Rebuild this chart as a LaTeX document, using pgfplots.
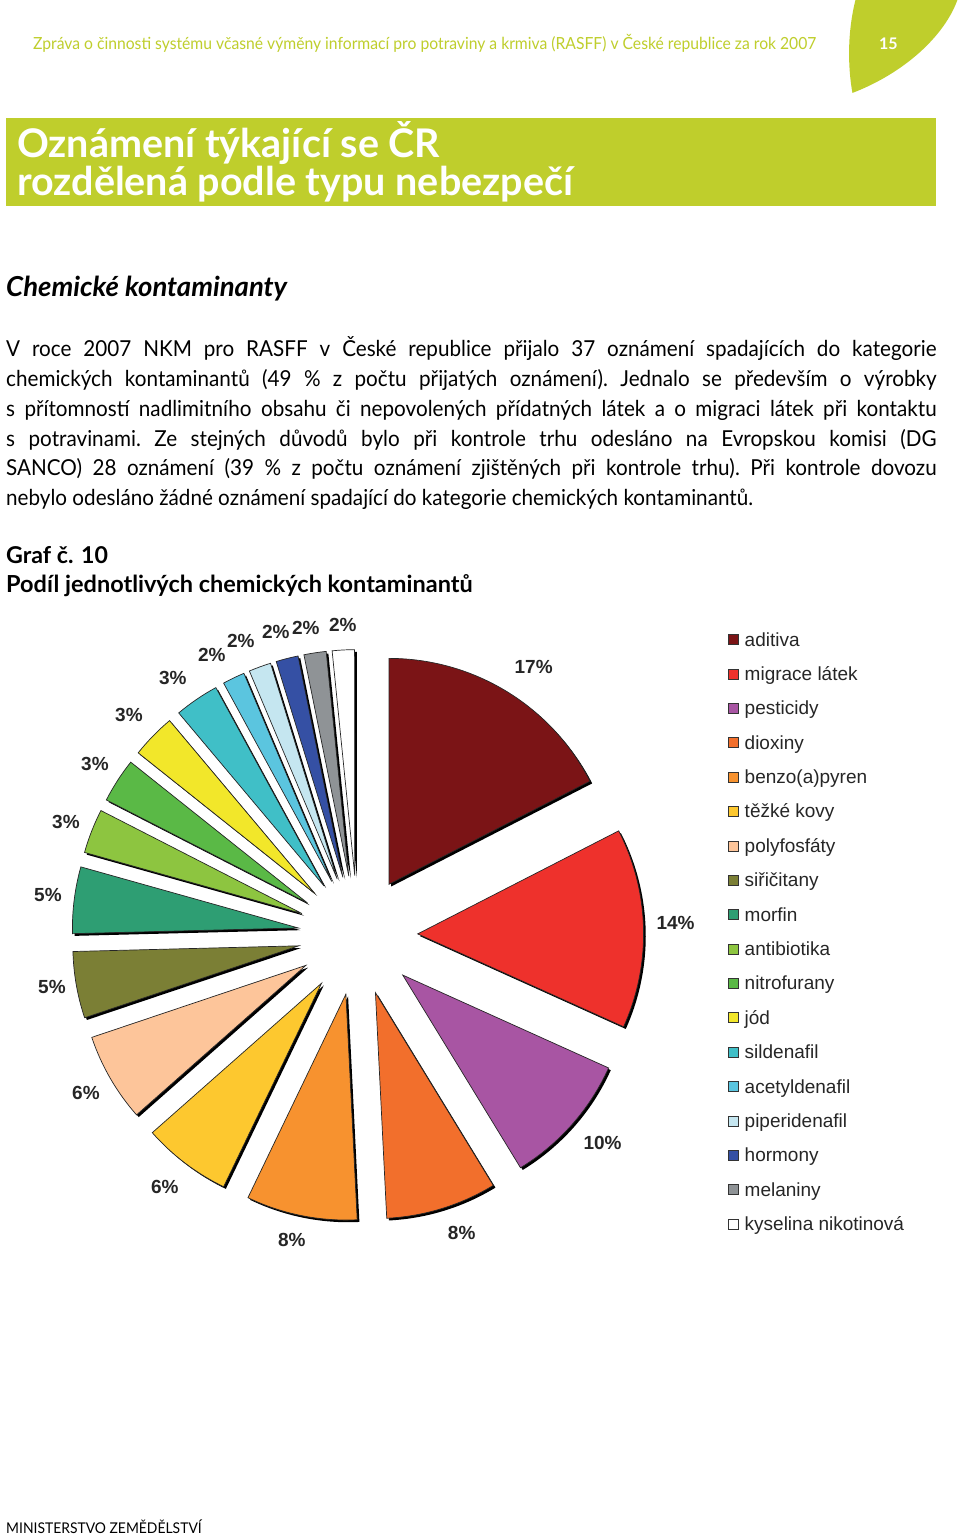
\documentclass[border=0pt]{standalone}
\usepackage{fontspec}
\setmainfont{Lato}
\newfontfamily\gill[FakeStretch=0.94]{Lato}
\newfontfamily\arialf{Liberation Sans}
\usepackage{pgfplots}
\usepackage{pgfplotstable}
\pgfplotsset{compat=1.18}

\definecolor{rgreen}{HTML}{BFCE2C}
\definecolor{s1}{HTML}{7B1416}
\definecolor{s2}{HTML}{EE312C}
\definecolor{s3}{HTML}{A855A3}
\definecolor{s4}{HTML}{F26F2C}
\definecolor{s5}{HTML}{F7922F}
\definecolor{s6}{HTML}{FDC82F}
\definecolor{s7}{HTML}{FDC59A}
\definecolor{s8}{HTML}{7B7F35}
\definecolor{s9}{HTML}{2E9E73}
\definecolor{s10}{HTML}{8DC540}
\definecolor{s11}{HTML}{5AB946}
\definecolor{s12}{HTML}{F2E72A}
\definecolor{s13}{HTML}{40BFC7}
\definecolor{s14}{HTML}{5BC5DF}
\definecolor{s15}{HTML}{C5E6F0}
\definecolor{s16}{HTML}{3550A4}
\definecolor{s17}{HTML}{8F9396}
\definecolor{s18}{HTML}{FFFFFF}

% pocty oznameni (celkem 63), podil v % se dopocita; lx,ly = poloha popisku
\pgfplotstableread[col sep=semicolon]{
name;count;col;lx;ly
aditiva;11;s1;534;666
migrace látek;9;s2;676;923
pesticidy;6;s3;603;1143
dioxiny;5;s4;462;1233
benzo(a)pyren;5;s5;292;1240
těžké kovy;4;s6;165;1187
polyfosfáty;4;s7;86;1093
siřičitany;3;s8;52;987
morfin;3;s9;48;895
antibiotika;2;s10;66;822
nitrofurany;2;s11;95;763
jód;2;s12;129;714
sildenafil;2;s13;173;677
acetyldenafil;1;s14;212;654
piperidenafil;1;s15;241;640
hormony;1;s16;276;631
melaniny;1;s17;306;627
kyselina nikotinová;1;s18;343;624
}\chemdata

\newcommand\labelfont{\arialf\bfseries\fontsize{19}{19}\selectfont}
\newcommand\legfont{\arialf\fontsize{19}{19}\selectfont}

\begin{document}
\begin{tikzpicture}
\begin{axis}[
    x=1pt, y=1pt,
    xmin=0, xmax=960, ymin=0, ymax=1536,
    y dir=reverse,
    hide axis, scale only axis, clip=false,
]
\fill[white] (axis cs:0,0) rectangle (axis cs:960,1536);

% zahlavi
\fill[rgreen] (axis cs:856,-1) .. controls (axis cs:847,35) and (axis cs:849,70) .. (axis cs:853,92)
   .. controls (axis cs:905,72) and (axis cs:945,35) .. (axis cs:958,-1) -- cycle;
\node[anchor=base, text=white, font=\bfseries\fontsize{16}{16}\selectfont, inner sep=0]
   at (axis cs:889,49) {15};
\node[anchor=base west, text=rgreen, font=\gill\fontsize{16.7}{16.7}\selectfont, inner sep=0]
   at (axis cs:33,49) {Zpráva o činnosti systému včasné výměny informací pro potraviny a krmiva (RASFF) v České republice za rok 2007};

% nadpis
\fill[rgreen] (axis cs:6,117) rectangle (axis cs:937,205);
\node[anchor=base west, text=white, font=\bfseries\fontsize{39.5}{39.5}\selectfont, inner sep=0]
   at (axis cs:17,157) {Oznámení týkající se ČR};
\node[anchor=base west, text=white, font=\bfseries\fontsize{39.5}{39.5}\selectfont, inner sep=0]
   at (axis cs:17,195) {rozdělená podle typu nebezpečí};

\node[anchor=base west, font=\bfseries\itshape\fontsize{27.5}{27.5}\selectfont, inner sep=0]
   at (axis cs:6,296) {Chemické kontaminanty};

\node[anchor=base west, inner sep=0] at (axis cs:6,356) {\parbox[t]{931pt}{\gill\fontsize{22}{29.8}\selectfont
  \frenchspacing\hyphenpenalty=10000 \emergencystretch=20pt
  V roce 2007 NKM pro RASFF v České republice přijalo 37 oznámení spadajících do kategorie\linebreak
  chemických kontaminantů (49 \% z počtu přijatých oznámení). Jednalo se především o výrobky\linebreak
  s přítomností nadlimitního obsahu či nepovolených přídatných látek a o migraci látek při kontaktu\linebreak
  s potravinami. Ze stejných důvodů bylo při kontrole trhu odesláno na Evropskou komisi (DG\linebreak
  SANCO) 28 oznámení (39 \% z počtu oznámení zjištěných při kontrole trhu). Při kontrole dovozu\linebreak
  nebylo odesláno žádné oznámení spadající do kategorie chemických kontaminantů.}};

\node[anchor=base west, font=\bfseries\fontsize{23.2}{23.2}\selectfont, inner sep=0]
   at (axis cs:6,563) {Graf č. 10};
\node[anchor=base west, font=\bfseries\fontsize{23.5}{23.5}\selectfont, inner sep=0]
   at (axis cs:6,592) {Podíl jednotlivých chemických kontaminantů};

% kolac
\def\cx{358}\def\cy{935}\def\dd{60}\def\Rr{226}
\def\acur{90}
\pgfplotsforeachungrouped \row in {0,...,17}{%
  \pgfplotstablegetelem{\row}{count}\of\chemdata \let\sval\pgfplotsretval
  \pgfplotstablegetelem{\row}{col}\of\chemdata \let\scol\pgfplotsretval
  \pgfplotstablegetelem{\row}{name}\of\chemdata \let\sname\pgfplotsretval
  \pgfplotstablegetelem{\row}{lx}\of\chemdata \let\lx\pgfplotsretval
  \pgfplotstablegetelem{\row}{ly}\of\chemdata \let\ly\pgfplotsretval
  \pgfmathsetmacro\aend{\acur-\sval/63*360}
  \pgfmathsetmacro\amid{(\acur+\aend)/2}
  \pgfmathsetmacro\px{\cx+\dd*cos(\amid)}
  \pgfmathsetmacro\py{\cy-\dd*sin(\amid)}
  \pgfmathtruncatemacro\pct{round(\sval/63*100)}
  \pgfmathsetmacro\ry{639+34.4*\row}
  \edef\temp{%
    \noexpand\fill[black, xshift=2.2pt, yshift=-2.2pt] (axis cs:\px,\py) -- ++(\acur:\Rr pt)
       arc[start angle=\acur, end angle=\aend, radius=\Rr pt] -- cycle;
    \noexpand\filldraw[fill=\scol, draw=black!85, line width=0.7pt] (axis cs:\px,\py) -- ++(\acur:\Rr pt)
       arc[start angle=\acur, end angle=\aend, radius=\Rr pt] -- cycle;
    \noexpand\node[font=\noexpand\labelfont, text=black!85, inner sep=0] at (axis cs:\lx,\ly) {\pct\noexpand\%};
    \noexpand\filldraw[fill=\scol, draw=black!80, line width=0.6pt] (axis cs:728.5,\ry-5) rectangle (axis cs:738.5,\ry+5);
    \noexpand\node[anchor=base west, font=\noexpand\legfont, text=black!85, inner sep=0] at (axis cs:745,\ry+6.5) {\sname};
  }%
  \temp
  \let\acur\aend
}

\node[anchor=base west, font=\gill\fontsize{14.8}{14.8}\selectfont, inner sep=0]
   at (axis cs:6,1533) {MINISTERSTVO ZEMĚDĚLSTVÍ};
\end{axis}
\end{tikzpicture}
\end{document}
